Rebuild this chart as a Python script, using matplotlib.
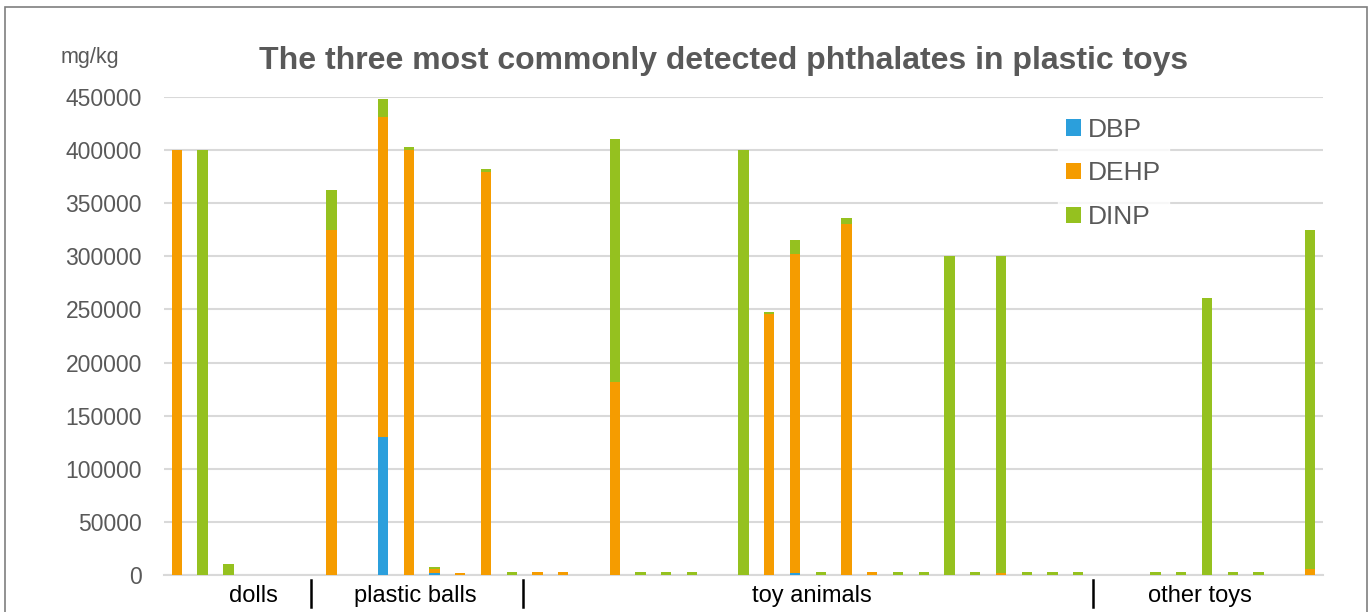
import numpy as np
import matplotlib
matplotlib.use("Agg")
from matplotlib import pyplot as plt
from matplotlib.patches import Rectangle
from matplotlib.lines import Line2D

plt.rcParams['font.family'] = ['Liberation Sans', 'DejaVu Sans']

# 45 sample slots, stacked values in mg/kg
dbp = [0, 0, 0, 0, 0, 0, 0, 0, 130000, 0, 1600, 0, 0, 0, 0,
       0, 0, 0, 0, 0, 0, 0, 0, 0, 1500, 0, 0, 0, 0, 0,
       0, 0, 0, 0, 0, 0, 0, 0, 0, 0, 0, 0, 0, 0, 0]
dehp = [400000, 0, 0, 0, 0, 0, 325000, 0, 301000, 400000, 4300, 2000, 379500, 0, 2500,
        2500, 0, 181500, 0, 0, 0, 0, 0, 245500, 300500, 0, 330500, 2500, 0, 0,
        0, 0, 2000, 0, 0, 0, 0, 0, 0, 0, 0, 0, 0, 0, 5500]
dinp = [0, 400000, 10000, 0, 0, 0, 37000, 0, 17000, 3000, 1600, 0, 2500, 2500, 0,
        0, 0, 228500, 2500, 2500, 2500, 0, 400500, 2000, 13500, 2500, 6000, 0, 2500, 2500,
        300000, 2500, 298000, 2500, 2500, 2500, 0, 0, 2500, 2500, 261000, 2500, 2500, 0, 319500]
groups = ["dolls", "plastic balls", "toy animals", "other toys"]
yticks = [0, 50000, 100000, 150000, 200000, 250000, 300000, 350000, 400000, 450000]

c_dbp, c_dehp, c_dinp = "#2b9fdc", "#f59c00", "#95c11f"
grey = "#595959"

W, H = 1371, 612
fig = plt.figure(figsize=(W / 100, H / 100), dpi=100)
ax = fig.add_axes([164 / W, (H - 575) / H, 1159 / W, 478 / H])

x = np.arange(len(dbp))
dbp_a, dehp_a, dinp_a = np.array(dbp), np.array(dehp), np.array(dinp)
ax.bar(x, dbp_a, width=0.4, color=c_dbp, label="DBP", zorder=3)
ax.bar(x, dehp_a, width=0.4, bottom=dbp_a, color=c_dehp, label="DEHP", zorder=3)
ax.bar(x, dinp_a, width=0.4, bottom=dbp_a + dehp_a, color=c_dinp, label="DINP", zorder=3)

ax.set_xlim(-0.5, len(dbp) - 0.5)
ax.set_ylim(0, 450000)
ax.set_yticks(yticks)
ax.set_yticklabels([str(v) for v in yticks], fontsize=16.5, color=grey)
ax.tick_params(axis="y", length=0, pad=16)
ax.set_xticks([])
ax.grid(axis="y", color="#d9d9d9", linewidth=1.5, zorder=0)
for s in ["top", "right", "left"]:
    ax.spines[s].set_visible(False)
ax.spines["bottom"].set_color("#d9d9d9")
ax.spines["bottom"].set_linewidth(1.5)

leg = ax.legend(loc="upper left", bbox_to_anchor=((1058 - 164) / 1159, (575 - 110) / 478),
                frameon=True, fontsize=19, handlelength=0.57, handleheight=0.57,
                handletextpad=0.25, labelspacing=0.74, borderpad=0.3, borderaxespad=0)
leg.get_frame().set_facecolor("white")
leg.get_frame().set_edgecolor("white")
for t in leg.get_texts():
    t.set_color(grey)

fig.text(724 / W, 1 - 61 / H, "The three most commonly detected phthalates in plastic toys",
         ha="center", va="center", fontsize=23, fontweight="bold", color=grey)
fig.text(90 / W, 1 - 57 / H, "mg/kg", ha="center", va="center", fontsize=15.5, color=grey)

# group labels under the axis
label_x = [253, 415, 812, 1200]
for lx, g in zip(label_x, groups):
    fig.text(lx / W, 1 - 596 / H, g, ha="center", va="center", fontsize=17, color="black")
for sx in [311, 523, 1093]:
    fig.add_artist(Line2D([sx / W, sx / W], [1 - 580 / H, 1 - 607 / H], color="black", linewidth=1.8))

# outer chart border
fig.add_artist(Rectangle((5 / W, -0.05), 1362 / W, 1 - 7 / H + 0.05, fill=False,
                         edgecolor="#7f7f7f", linewidth=1.2, transform=fig.transFigure))

fig.savefig("out.png", dpi=100)
